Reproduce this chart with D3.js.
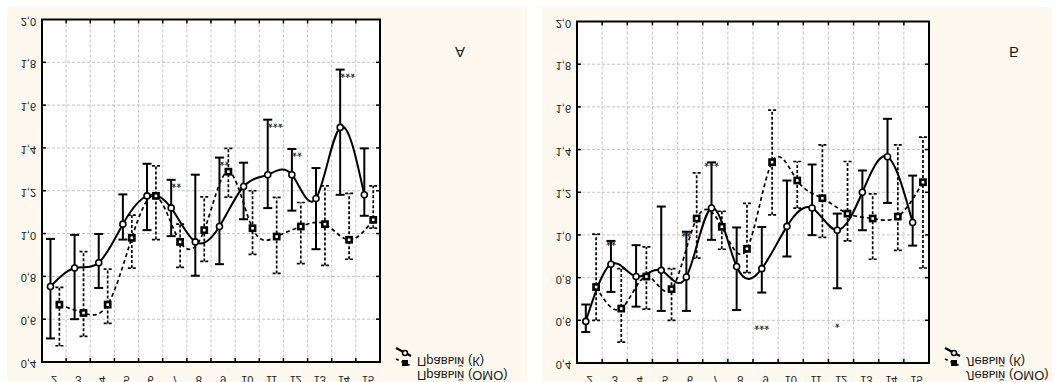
<!DOCTYPE html>
<html>
<head>
<meta charset="utf-8">
<script src="https://cdn.jsdelivr.net/npm/d3@7"></script>
<style>
  body { margin: 0; background: #fff; }
  text { font-family: "Liberation Sans", Arial, sans-serif; fill: #1a1a1a; }
</style>
</head>
<body>
<div id="chart"></div>
<script>
// categories on the x axis
const categories = ["2","3","4","5","6","7","8","9","10","11","12","13","14","15"];
const yTicks = [0.4, 0.6, 0.8, 1.0, 1.2, 1.4, 1.6, 1.8, 2.0];
const yTickLabels = ["0,4","0,6","0,8","1,0","1,2","1,4","1,6","1,8","2,0"];

// panel A  (right side)
const aKMean = [0.753, 0.839, 0.864, 1.044, 1.176, 1.12, 0.961, 1.033, 1.22, 1.275, 1.275, 1.164, 1.496, 1.181];
const aKLow  = [0.51, 0.60, 0.746, 0.972, 1.016, 0.988, 0.803, 0.857, 1.067, 1.119, 1.107, 0.927, 1.181, 1.083];
const aKHigh = [0.975, 0.994, 0.998, 1.183, 1.326, 1.251, 1.275, 1.355, 1.331, 1.532, 1.395, 1.306, 1.766, 1.398];
const aOMean = [0.668, 0.629, 0.668, 0.98, 1.176, 0.961, 1.016, 1.289, 1.025, 0.986, 1.033, 1.044, 0.971, 1.064];
const aOLow  = [0.476, 0.52, 0.58, 0.839, 0.972, 0.842, 0.87, 1.17, 0.903, 0.814, 0.86, 0.851, 0.88, 1.025];
const aOHigh = [0.749, 0.916, 0.834, 1.086, 1.316, 1.044, 1.171, 1.398, 1.2, 1.169, 1.145, 1.223, 1.188, 1.223];
const aStars = [["7","**"],["9","**"],["11","***"],["12","**"],["14","***"]];
const aLegend = ["Правый (К)", "Правый (ОМО)"];

// panel Б (left side)
const bKMean = [0.595, 0.863, 0.805, 0.834, 0.803, 1.126, 0.852, 0.842, 1.04, 1.126, 1.022, 1.2, 1.366, 1.058];
const bKLow  = [0.545, 0.733, 0.664, 0.644, 0.644, 0.977, 0.648, 0.73, 0.899, 0.999, 0.75, 1.022, 1.15, 0.95];
const bKHigh = [0.674, 0.972, 0.952, 1.133, 1.015, 1.34, 1.035, 1.037, 1.255, 1.33, 1.1, 1.302, 1.544, 1.278];
const bOMean = [0.756, 0.655, 0.805, 0.746, 1.077, 1.038, 0.935, 1.341, 1.255, 1.172, 1.1, 1.077, 1.086, 1.247];
const bOLow  = [0.6, 0.498, 0.652, 0.6, 0.891, 0.933, 0.823, 1.094, 1.126, 0.989, 0.972, 0.886, 0.928, 0.845];
const bOHigh = [1.004, 0.842, 0.944, 0.842, 1.291, 1.111, 1.148, 1.585, 1.344, 1.422, 1.344, 1.192, 1.422, 1.458];
const bStars = [["3","**"],["6","**"],["7","***"]];
const bStarsLow = [["9","***",0.563],["12","*",0.572]];
const bLegend = ["Левый (К)", "Левый (ОМО)"];

const W = 1059, H = 382;
const svg = d3.select("#chart").append("svg")
  .attr("width", W).attr("height", H);

// text is drawn mirrored top-to-bottom, like the picture
function ftext(g, x, y, str, anchor, size) {
  return g.append("text")
    .attr("transform", "translate(" + x + "," + y + ") scale(1,-1)")
    .attr("text-anchor", anchor)
    .style("font-size", size + "px")
    .text(str);
}

function drawPanel(p) {
  const g = svg.append("g");
  g.append("rect").attr("x", p.bgX).attr("y", 7).attr("width", p.bgW).attr("height", H)
    .attr("fill", "#fdf9ef");

  const x = d3.scaleBand().domain(categories).range([p.left, p.right]);
  const y = d3.scaleLinear().domain([0.4, 2.0]).range([p.bottom, p.top]);
  const bw = x.bandwidth();

  g.append("rect").attr("x", p.left).attr("y", p.top)
    .attr("width", p.right - p.left).attr("height", p.bottom - p.top).attr("fill", "#fff");

  // grid
  const grid = g.append("g").attr("stroke", "#c4c4c4").attr("stroke-dasharray", "3,2").attr("stroke-width", 1);
  categories.slice(1).forEach(c => {
    grid.append("line").attr("x1", x(c)).attr("x2", x(c)).attr("y1", p.top).attr("y2", p.bottom);
  });
  yTicks.slice(1, -1).forEach(t => {
    grid.append("line").attr("x1", p.left).attr("x2", p.right).attr("y1", y(t)).attr("y2", y(t));
  });

  const kOff = -0.15 * bw, oOff = p.oOff * bw;
  const kx = c => x(c) + bw / 2 + kOff;
  const ox = c => x(c) + bw / 2 + oOff;

  const line = d3.line().curve(d3.curveNatural);

  // OMO series (dashed)
  const og = g.append("g");
  categories.forEach((c, i) => {
    const xx = ox(c);
    og.append("line").attr("x1", xx).attr("x2", xx).attr("y1", y(p.oLow[i])).attr("y2", y(p.oHigh[i]))
      .attr("stroke", "#000").attr("stroke-width", 1.7).attr("stroke-dasharray", "3,2");
    [p.oLow[i], p.oHigh[i]].forEach(v => {
      og.append("line").attr("x1", xx - 4).attr("x2", xx + 4).attr("y1", y(v)).attr("y2", y(v))
        .attr("stroke", "#000").attr("stroke-width", 1.7).attr("stroke-dasharray", "3,2");
    });
  });
  og.append("path")
    .attr("d", line(categories.map((c, i) => [ox(c), y(p.oMean[i])])))
    .attr("fill", "none").attr("stroke", "#000").attr("stroke-width", 1.7).attr("stroke-dasharray", "4,3");

  // K series (solid)
  const kg = g.append("g");
  categories.forEach((c, i) => {
    const xx = kx(c);
    kg.append("line").attr("x1", xx).attr("x2", xx).attr("y1", y(p.kLow[i])).attr("y2", y(p.kHigh[i]))
      .attr("stroke", "#000").attr("stroke-width", 2);
    [p.kLow[i], p.kHigh[i]].forEach(v => {
      kg.append("line").attr("x1", xx - 4.5).attr("x2", xx + 4.5).attr("y1", y(v)).attr("y2", y(v))
        .attr("stroke", "#000").attr("stroke-width", 2);
    });
  });
  kg.append("path")
    .attr("d", line(categories.map((c, i) => [kx(c), y(p.kMean[i])])))
    .attr("fill", "none").attr("stroke", "#000").attr("stroke-width", 2);

  // markers
  categories.forEach((c, i) => {
    g.append("rect").attr("x", ox(c) - 2.6).attr("y", y(p.oMean[i]) - 2.6).attr("width", 5.2).attr("height", 5.2)
      .attr("fill", "#fff").attr("stroke", "#000").attr("stroke-width", 2.6);
    g.append("circle").attr("cx", kx(c)).attr("cy", y(p.kMean[i])).attr("r", 3)
      .attr("fill", "#fff").attr("stroke", "#000").attr("stroke-width", 1.6);
  });

  // significance marks
  p.stars.forEach(([c, s]) => {
    const i = categories.indexOf(c);
    ftext(g, kx(c) + p.starDx, y(p.kHigh[i]) + p.starDy, s, p.starAnchor, 13);
  });
  (p.starsLow || []).forEach(([c, s, v]) => {
    ftext(g, kx(c), y(v) - 7, s, "middle", 13);
  });

  // frame and inward ticks
  const tk = g.append("g").attr("stroke", "#000").attr("stroke-width", 1.5);
  categories.slice(1).forEach(c => {
    tk.append("line").attr("x1", x(c)).attr("x2", x(c)).attr("y1", p.top).attr("y2", p.top + 4);
    tk.append("line").attr("x1", x(c)).attr("x2", x(c)).attr("y1", p.bottom).attr("y2", p.bottom - 4);
  });
  yTicks.slice(1, -1).forEach(t => {
    tk.append("line").attr("x1", p.left).attr("x2", p.left + 4).attr("y1", y(t)).attr("y2", y(t));
    tk.append("line").attr("x1", p.right).attr("x2", p.right - 4).attr("y1", y(t)).attr("y2", y(t));
  });
  g.append("rect").attr("x", p.left).attr("y", p.top)
    .attr("width", p.right - p.left).attr("height", p.bottom - p.top)
    .attr("fill", "none").attr("stroke", "#000").attr("stroke-width", 2);

  // tick labels
  yTicks.forEach((t, i) => ftext(g, p.left - 6, y(t) - 2, yTickLabels[i], "end", 11));
  categories.forEach(c => ftext(g, x(c) + bw / 2, 376, c, "middle", 11));

  // panel letter
  ftext(g, p.letterX, 47, p.letter, "middle", 15);

  // legend
  const lx = p.right + 16;
  g.append("line").attr("x1", lx).attr("y1", 348).attr("x2", lx + 15).attr("y2", 356)
    .attr("stroke", "#000").attr("stroke-width", 2);
  g.append("circle").attr("cx", lx + 9).attr("cy", 353).attr("r", 2.5)
    .attr("fill", "#fff").attr("stroke", "#000").attr("stroke-width", 1.5);
  g.append("line").attr("x1", lx).attr("y1", 359).attr("x2", lx + 15).attr("y2", 366)
    .attr("stroke", "#000").attr("stroke-width", 1.6).attr("stroke-dasharray", "3,3");
  g.append("rect").attr("x", lx + 6).attr("y", 360).attr("width", 6).attr("height", 6)
    .attr("fill", "#000");
  ftext(g, lx + 21, 357, p.legend[0], "start", 13);
  ftext(g, lx + 21, 371, p.legend[1], "start", 13);
}

drawPanel({
  bgX: 7, bgW: 520, left: 42, right: 380, top: 19.5, bottom: 362, oOff: 0.22,
  kMean: aKMean, kLow: aKLow, kHigh: aKHigh, oMean: aOMean, oLow: aOLow, oHigh: aOHigh,
  stars: aStars, starDx: 0, starDy: -1, starAnchor: "start",
  letter: "А", letterX: 460, legend: aLegend
});
drawPanel({
  bgX: 542, bgW: 510, left: 577, right: 929, top: 21.5, bottom: 363, oOff: 0.26,
  kMean: bKMean, kLow: bKLow, kHigh: bKHigh, oMean: bOMean, oLow: bOLow, oHigh: bOHigh,
  stars: bStars, starsLow: bStarsLow, starDx: 0, starDy: -4, starAnchor: "middle",
  letter: "Б", letterX: 1014, legend: bLegend
});
</script>
</body>
</html>
